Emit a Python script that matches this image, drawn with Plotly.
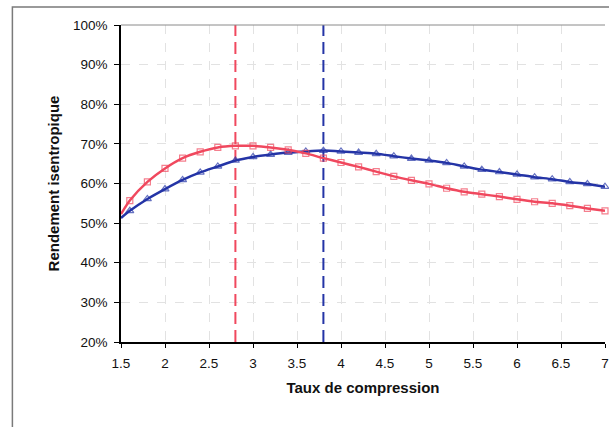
import plotly.graph_objects as go

# Data
taux = [1.5, 1.6, 1.8, 2.0, 2.2, 2.4, 2.6, 2.8, 3.0, 3.2, 3.4, 3.6, 3.8, 4.0, 4.2,
        4.4, 4.6, 4.8, 5.0, 5.2, 5.4, 5.6, 5.8, 6.0, 6.2, 6.4, 6.6, 6.8, 7.0]
rend_rouge = [52.3, 55.7, 60.4, 63.8, 66.4, 68.0, 69.1, 69.5, 69.5, 69.1, 68.5, 67.6, 66.4,
              65.3, 64.2, 63.0, 61.8, 60.8, 59.9, 58.8, 57.9, 57.3, 56.7, 56.0, 55.4, 55.0,
              54.4, 53.7, 53.1]
rend_bleu = [51.3, 53.1, 56.1, 58.6, 60.9, 62.8, 64.3, 65.8, 66.7, 67.3, 67.8, 68.1, 68.3,
             68.1, 67.8, 67.5, 66.9, 66.3, 65.8, 65.2, 64.3, 63.5, 62.9, 62.3, 61.6, 61.1,
             60.4, 59.9, 59.2]
optimum_rouge = 2.8
optimum_bleu = 3.8
y_ticks = [20, 30, 40, 50, 60, 70, 80, 90, 100]
y_labels = ["20%", "30%", "40%", "50%", "60%", "70%", "80%", "90%", "100%"]
x_ticks = [1.5, 2, 2.5, 3, 3.5, 4, 4.5, 5, 5.5, 6, 6.5, 7]
x_labels = ["1.5", "2", "2.5", "3", "3.5", "4", "4.5", "5", "5.5", "6", "6.5", "7"]

ROUGE = "#f0485e"
BLEU = "#2434a6"

W, H = 609, 427
L, R, T, B = 121, 0, 25, 85
pw, ph = W - L - R, H - T - B

fig = go.Figure()

# Optimum dashed lines
fig.add_trace(go.Scatter(x=[optimum_rouge, optimum_rouge], y=[y_ticks[0], y_ticks[-1]],
                         mode="lines", line=dict(color=ROUGE, width=2, dash="12px,6px"),
                         hoverinfo="skip", showlegend=False, cliponaxis=False))
fig.add_trace(go.Scatter(x=[optimum_bleu, optimum_bleu], y=[y_ticks[0], y_ticks[-1]],
                         mode="lines", line=dict(color=BLEU, width=2, dash="12px,6px"),
                         hoverinfo="skip", showlegend=False, cliponaxis=False))

msize_r = [0] + [6] * (len(taux) - 1)
msize_b = [0] + [7] * (len(taux) - 1)

fig.add_trace(go.Scatter(x=taux, y=rend_bleu, mode="lines+markers",
                         line=dict(color=BLEU, width=2.5, shape="spline", smoothing=0.6),
                         marker=dict(symbol="triangle-up-open", size=msize_b, color=BLEU,
                                     line=dict(width=1.2, color=BLEU)),
                         showlegend=False, cliponaxis=False))
fig.add_trace(go.Scatter(x=taux, y=rend_rouge, mode="lines+markers",
                         line=dict(color=ROUGE, width=2.5, shape="spline", smoothing=0.6),
                         marker=dict(symbol="square-open", size=msize_r, color=ROUGE,
                                     line=dict(width=1.2, color=ROUGE)),
                         showlegend=False, cliponaxis=False))

# Outer chart frame
fig.add_shape(type="rect", xref="paper", yref="paper",
              x0=(11.5 - L) / pw, x1=1.2, y0=-0.6, y1=(T + ph - 7) / ph,
              line=dict(color="#7a7a7a", width=1.5), layer="below")
# top border of plot area
fig.add_shape(type="line", xref="paper", yref="paper", x0=0, x1=1, y0=1, y1=1,
              line=dict(color="#8a8a8a", width=1))

fig.update_layout(
    width=W, height=H,
    margin=dict(l=L, r=R, t=T, b=B),
    paper_bgcolor="white", plot_bgcolor="white",
    font=dict(family="Liberation Sans, Arial, sans-serif", size=13.5, color="#111"),
    xaxis=dict(range=[1.5, 7.0], tickvals=x_ticks, ticktext=x_labels,
               showgrid=True, gridcolor="#e2e2e2", griddash="dash", gridwidth=1,
               showline=True, linecolor="black", linewidth=1.5,
               ticks="outside", ticklen=4, tickcolor="black",
               ticklabeloverflow="allow", ticklabelstandoff=4, zeroline=False,
               title=dict(text="<b>Taux de compression</b>", font=dict(size=15), standoff=13)),
    yaxis=dict(range=[20, 100], tickvals=y_ticks, ticktext=y_labels,
               showgrid=True, gridcolor="#e2e2e2", griddash="dash", gridwidth=1,
               showline=True, linecolor="black", linewidth=1.5,
               ticks="outside", ticklen=5, tickcolor="black", zeroline=False,
               ticklabelstandoff=4,
               title=dict(text="<b>Rendement isentropique</b>", font=dict(size=15), standoff=10)),
)

fig.write_html("out.html", config={"displayModeBar": False},
               post_script="document.body.style.margin='0px';")
